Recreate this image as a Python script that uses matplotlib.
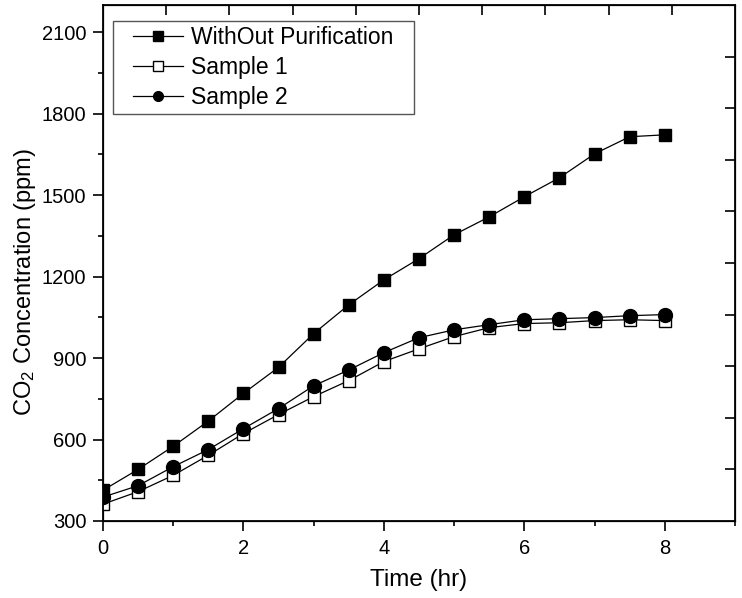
import matplotlib
matplotlib.use("Agg")
import matplotlib.pyplot as plt
import numpy as np

plt.rcParams['font.family'] = ['Liberation Sans', 'DejaVu Sans']
plt.rcParams['mathtext.default'] = 'regular'

# Data
time_hr = [0, 0.5, 1, 1.5, 2, 2.5, 3, 3.5, 4, 4.5, 5, 5.5, 6, 6.5, 7, 7.5, 8]
without_purif = [413, 490, 575, 668, 770, 866, 990, 1096, 1188, 1266, 1354, 1420, 1494, 1564, 1652, 1715, 1722]
sample1 = [362, 408, 468, 542, 622, 692, 758, 817, 887, 934, 979, 1012, 1027, 1030, 1038, 1041, 1038]
sample2 = [388, 430, 500, 563, 640, 714, 798, 856, 920, 975, 1004, 1023, 1041, 1045, 1049, 1056, 1060]
labels = ["WithOut Purification", "Sample 1", "Sample 2"]

fig = plt.figure(figsize=(7.42, 5.98), dpi=100)
ax = fig.add_axes([0.1388, 0.1288, 0.8518, 0.8628])

ax.plot(time_hr, without_purif, color='black', lw=0.9, marker='s', ms=8.5,
        mfc='black', mec='black', label=labels[0])
ax.plot(time_hr, sample1, color='black', lw=0.9, marker='s', ms=8,
        mfc='white', mec='black', mew=1.0, label=labels[1])
ax.plot(time_hr, sample2, color='black', lw=0.9, marker='o', ms=10,
        mfc='black', mec='black', label=labels[2])

ax.set_xlim(0, 9)
ax.set_ylim(300, 2200)
ax.set_xticks([0, 2, 4, 6, 8])
ax.set_xticks([1, 3, 5, 7, 9], minor=True)
ax.set_yticks(np.arange(300, 2101, 300))
ax.set_yticks(np.arange(450, 2200, 300), minor=True)
ax.tick_params(which='major', direction='out', length=7, width=1.2, labelsize=14.5)
ax.tick_params(axis='x', which='major', pad=6)
ax.tick_params(axis='y', which='major', pad=5)
ax.tick_params(which='minor', direction='out', length=3.5, width=1.2)
for s in ax.spines.values():
    s.set_linewidth(1.3)

# Origin-style top/right ticks (own spacing, inward)
top = ax.twiny()
top.set_xlim(0, 9)
top.set_xticks(np.arange(0.9, 8.2, 0.9))
top.tick_params(direction='in', length=7, width=1.2, labeltop=False)
right = ax.twinx()
right.set_ylim(300, 2200)
right.set_yticks(np.arange(490, 2020, 190))
right.tick_params(direction='in', length=7, width=1.2, labelright=False)
right.set_zorder(-1)
top.set_zorder(-1)
ax.patch.set_visible(False)

ax.set_xlabel('Time (hr)', fontsize=17.5)
ax.set_ylabel('CO$_2$ Concentration (ppm)', fontsize=17)
ax.xaxis.set_label_coords(0.5, -0.093)
ax.yaxis.set_label_coords(-0.103, 0.464)

leg = ax.legend(loc='upper left', bbox_to_anchor=(0.0396, 0.969), borderaxespad=0,
                fontsize=16.5, fancybox=False, edgecolor='#555555', framealpha=1,
                handlelength=2.2, handletextpad=0.35, labelspacing=0.3,
                borderpad=0.22)
for h in leg.legend_handles:
    h.set_markersize(7)
frame = leg.get_frame()
frame.set_linewidth(1.0)
# wider side padding than top/bottom, like the original legend box
frame.set_boxstyle('square', pad=0.67)
frame.set_mutation_aspect(0.01)

fig.savefig('out.png', dpi=100)
